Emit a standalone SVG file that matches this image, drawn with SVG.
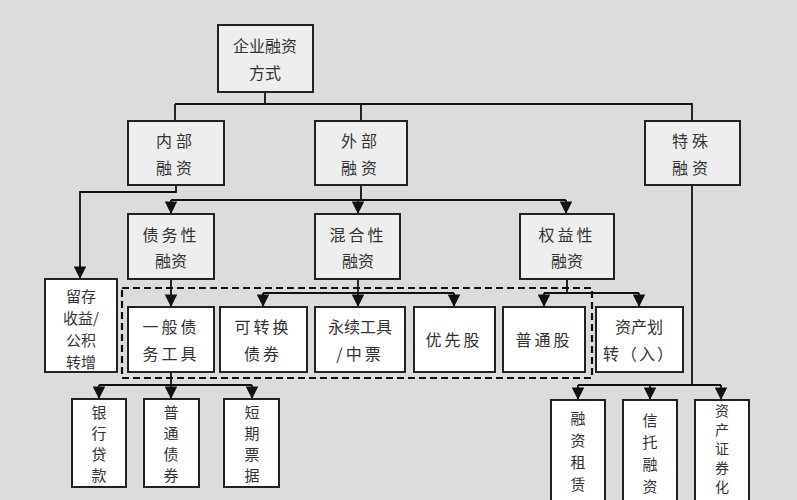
<svg xmlns="http://www.w3.org/2000/svg" width="797" height="500" viewBox="0 0 797 500">
<style>
.c{fill:#eeeeee;stroke:#222;stroke-width:2}
.w{fill:#fff;stroke:#222;stroke-width:2}
text{font-family:"Noto Sans CJK SC",sans-serif;font-size:16px;fill:#333;text-anchor:middle}
.v{font-size:15px}
.v5{font-size:14px}
.l{fill:none;stroke:#111;stroke-width:1.8}
</style>
<defs>
<marker id="b" viewBox="0 0 10 10" refX="10" refY="5" markerWidth="7" markerHeight="7" orient="auto"><path d="M0,0L10,5L0,10z" fill="#111"/></marker></defs>
<rect width="797" height="500" fill="#dcdcdc"/>
<g id="connectors">
<path class="l" d="M265,92V104M175,104H692V121M175,104V121M361,104V121"/>
<path class="l" d="M176,185V192H80V279" marker-end="url(#b)"/>
<path class="l" d="M361,185V200M171,200H566"/>
<path class="l" d="M171,200V214" marker-end="url(#b)"/>
<path class="l" d="M358,200V214" marker-end="url(#b)"/>
<path class="l" d="M566,200V214" marker-end="url(#b)"/>
<path class="l" d="M171,279V307" marker-end="url(#b)"/>
<path class="l" d="M358,279V307" marker-end="url(#b)"/>
<path class="l" d="M263,293H454"/>
<path class="l" d="M263,293V307" marker-end="url(#b)"/>
<path class="l" d="M454,293V307" marker-end="url(#b)"/>
<path class="l" d="M567,279V293M544,293H639"/>
<path class="l" d="M544,293V307" marker-end="url(#b)"/>
<path class="l" d="M639,293V307" marker-end="url(#b)"/>
<path class="l" d="M171,372V385M99,385H252"/>
<path class="l" d="M99,385V399" marker-end="url(#b)"/>
<path class="l" d="M171,385V399" marker-end="url(#b)"/>
<path class="l" d="M252,385V399" marker-end="url(#b)"/>
<path class="l" d="M692,185V385M578,385H721"/>
<path class="l" d="M578,385V400" marker-end="url(#b)"/>
<path class="l" d="M650,385V400" marker-end="url(#b)"/>
<path class="l" d="M721,385V400" marker-end="url(#b)"/>
</g>
<rect x="122" y="288" width="470" height="90" fill="none" stroke="#111" stroke-width="2.2" stroke-dasharray="7,4"/>
<g id="root"><rect class="c" x="218" y="25" width="95" height="67"/><text x="265" y="52">企业融资</text><text x="265" y="79">方式</text></g>
<g id="n1"><rect class="c" x="128" y="121" width="96" height="64"/><text x="176" y="147" letter-spacing="4">内部</text><text x="176" y="174" letter-spacing="4">融资</text></g>
<g id="n2"><rect class="c" x="315" y="121" width="92" height="64"/><text x="361" y="147" letter-spacing="4">外部</text><text x="361" y="174" letter-spacing="4">融资</text></g>
<g id="n3"><rect class="c" x="645" y="121" width="95" height="64"/><text x="692" y="147" letter-spacing="4">特殊</text><text x="692" y="174" letter-spacing="4">融资</text></g>
<g id="n4"><rect class="c" x="128" y="214" width="86" height="65"/><text x="171" y="241" letter-spacing="3">债务性</text><text x="171" y="267">融资</text></g>
<g id="n5"><rect class="c" x="315" y="214" width="85" height="65"/><text x="358" y="241" letter-spacing="3">混合性</text><text x="358" y="267">融资</text></g>
<g id="n6"><rect class="c" x="520" y="214" width="94" height="65"/><text x="567" y="241" letter-spacing="3">权益性</text><text x="567" y="267">融资</text></g>
<g id="n7"><rect class="w" x="45" y="279" width="72" height="93"/><text class="v" x="81" y="302">留存</text><text class="v" x="81" y="324">收益/</text><text class="v" x="81" y="346">公积</text><text class="v" x="81" y="368">转增</text></g>
<g id="n8"><rect class="w" x="128" y="307" width="86" height="65"/><text x="171" y="333" letter-spacing="3">一般债</text><text x="171" y="360" letter-spacing="3">务工具</text></g>
<g id="n9"><rect class="w" x="220" y="307" width="87" height="65"/><text x="263" y="333" letter-spacing="3">可转换</text><text x="263" y="360" letter-spacing="3">债券</text></g>
<g id="n10"><rect class="w" x="315" y="307" width="90" height="65"/><text x="360" y="333">永续工具</text><text x="360" y="360" letter-spacing="3">/中票</text></g>
<g id="n11"><rect class="w" x="414" y="307" width="81" height="65"/><text x="454" y="346" letter-spacing="3">优先股</text></g>
<g id="n12"><rect class="w" x="503" y="307" width="82" height="65"/><text x="544" y="346" letter-spacing="3">普通股</text></g>
<g id="n13"><rect class="w" x="596" y="307" width="87" height="65"/><text x="639" y="333">资产划</text><text x="639" y="360" letter-spacing="2">转（入）</text></g>
<g id="n14"><rect class="w" x="72" y="399" width="54" height="88"/><text class="v" x="99" y="418">银</text><text class="v" x="99" y="439">行</text><text class="v" x="99" y="460">贷</text><text class="v" x="99" y="481">款</text></g>
<g id="n15"><rect class="w" x="144" y="399" width="55" height="88"/><text class="v" x="171" y="418">普</text><text class="v" x="171" y="439">通</text><text class="v" x="171" y="460">债</text><text class="v" x="171" y="481">券</text></g>
<g id="n16"><rect class="w" x="224" y="399" width="55" height="88"/><text class="v" x="252" y="418">短</text><text class="v" x="252" y="439">期</text><text class="v" x="252" y="460">票</text><text class="v" x="252" y="481">据</text></g>
<g id="n17"><rect class="w" x="551" y="400" width="54" height="102"/><text class="v" x="578" y="424">融</text><text class="v" x="578" y="446">资</text><text class="v" x="578" y="468">租</text><text class="v" x="578" y="490">赁</text></g>
<g id="n18"><rect class="w" x="623" y="400" width="54" height="102"/><text class="v" x="650" y="426">信</text><text class="v" x="650" y="448">托</text><text class="v" x="650" y="470">融</text><text class="v" x="650" y="492">资</text></g>
<g id="n19"><rect class="w" x="695" y="400" width="54" height="102"/><text class="v5" x="722" y="416">资</text><text class="v5" x="722" y="435">产</text><text class="v5" x="722" y="454">证</text><text class="v5" x="722" y="473">券</text><text class="v5" x="722" y="492">化</text></g>
</svg>
